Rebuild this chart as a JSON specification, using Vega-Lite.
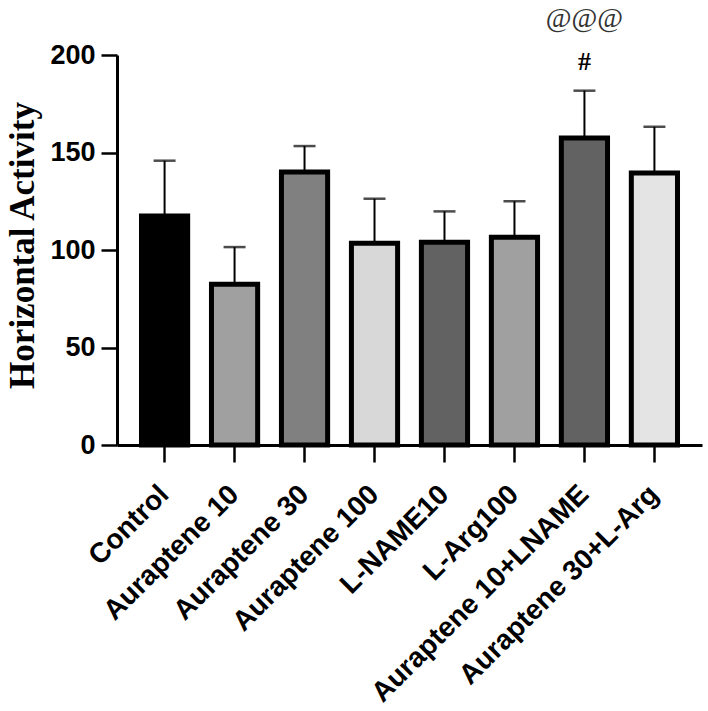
{
  "$schema": "https://vega.github.io/schema/vega-lite/v6.json",
  "autosize": "none",
  "padding": {"left": 117, "top": 55, "right": 6, "bottom": 266},
  "width": 585,
  "height": 390,
  "background": "white",
  "config": {"view": {"stroke": null}},
  "data": {"values": [
    {"group": "Control", "mean": 117.5, "upper": 145.8, "fill": "#000000", "sig1": "", "sig2": ""},
    {"group": "Auraptene 10", "mean": 82.5, "upper": 101.5, "fill": "#a0a0a0", "sig1": "", "sig2": ""},
    {"group": "Auraptene 30", "mean": 140, "upper": 153.3, "fill": "#808080", "sig1": "", "sig2": ""},
    {"group": "Auraptene 100", "mean": 103.5, "upper": 126.3, "fill": "#d8d8d8", "sig1": "", "sig2": ""},
    {"group": "L-NAME10", "mean": 104, "upper": 119.8, "fill": "#626262", "sig1": "", "sig2": ""},
    {"group": "L-Arg100", "mean": 106.5, "upper": 125, "fill": "#a0a0a0", "sig1": "", "sig2": ""},
    {"group": "Auraptene 10+LNAME", "mean": 157.5, "upper": 181.7, "fill": "#626262", "sig1": "#", "sig2": "@@@"},
    {"group": "Auraptene 30+L-Arg", "mean": 139.5, "upper": 163.2, "fill": "#e4e4e4", "sig1": "", "sig2": ""}
  ]},
  "encoding": {
    "x": {
      "field": "group", "type": "nominal", "sort": null,
      "scale": {"paddingInner": 0.34, "paddingOuter": 0.35},
      "axis": {
        "title": null, "labelAngle": -45, "labelAlign": "right", "labelBaseline": "middle",
        "labelFont": "Liberation Sans", "labelFontWeight": "bold", "labelFontSize": 28, "labelColor": "#000",
        "labelPadding": 28, "tickSize": 17, "tickWidth": 2.5, "tickColor": "#000",
        "domainColor": "#000", "domainWidth": 3, "labelLimit": 500
      }
    }
  },
  "layer": [
    {
      "mark": {"type": "rule", "color": "#000", "strokeWidth": 2},
      "encoding": {
        "y": {"field": "mean", "type": "quantitative"},
        "y2": {"field": "upper"}
      }
    },
    {
      "mark": {"type": "bar", "stroke": "#000", "strokeWidth": 5},
      "encoding": {
        "y": {
          "field": "mean", "type": "quantitative",
          "scale": {"domain": [0, 200]},
          "axis": {
            "values": [0, 50, 100, 150, 200], "grid": false,
            "title": "Horizontal Activity", "titleFont": "Liberation Serif", "titleFontWeight": "bold",
            "titleFontSize": 35, "titleColor": "#000", "titleX": -95, "titleY": 190,
            "titleAngle": -90, "titleAlign": "center", "titleBaseline": "middle",
            "labelFont": "Liberation Sans", "labelFontWeight": "bold", "labelFontSize": 27, "labelColor": "#000",
            "labelPadding": 6, "tickSize": 16, "tickWidth": 2.5, "tickColor": "#000",
            "domainColor": "#000", "domainWidth": 3
          }
        },
        "fill": {"field": "fill", "type": "nominal", "scale": null}
      }
    },
    {
      "mark": {"type": "tick", "color": "#000", "thickness": 2.5, "size": 22, "orient": "horizontal"},
      "encoding": {"y": {"field": "upper", "type": "quantitative"}}
    },
    {
      "mark": {"type": "text", "font": "Liberation Serif", "fontWeight": "bold", "fontSize": 26, "dy": -29, "baseline": "middle", "color": "#000"},
      "encoding": {"y": {"field": "upper", "type": "quantitative"}, "text": {"field": "sig1"}}
    },
    {
      "mark": {"type": "text", "font": "Liberation Serif", "fontSize": 28, "dy": -72, "baseline": "middle", "color": "#333"},
      "encoding": {"y": {"field": "upper", "type": "quantitative"}, "text": {"field": "sig2"}}
    }
  ]
}
